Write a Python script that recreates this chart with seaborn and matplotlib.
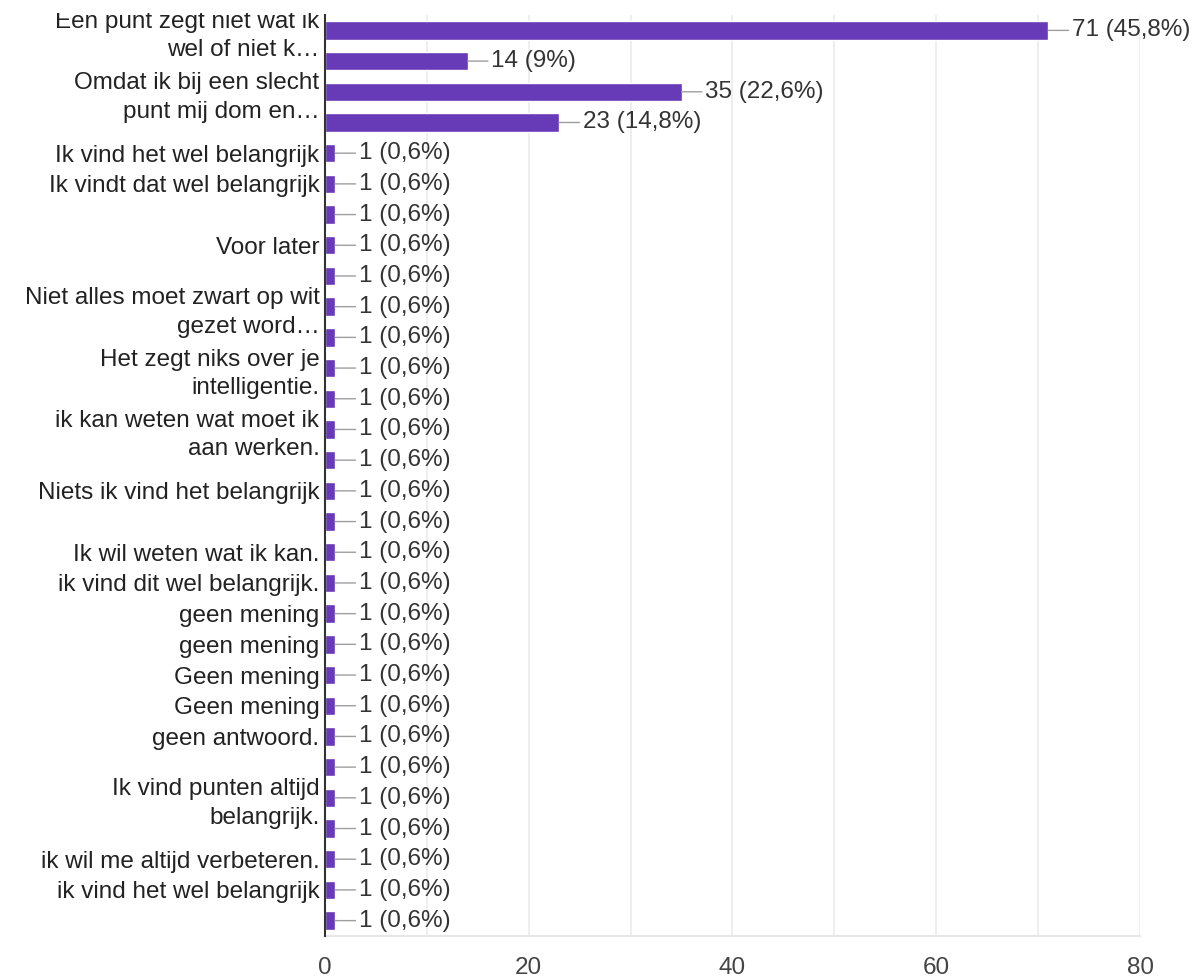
import pandas as pd
import seaborn as sns
import matplotlib.pyplot as plt
from matplotlib.transforms import Bbox, TransformedBbox

# Answers (as Google Forms shows them: long ones wrapped, some left out)
labels = [
    'Een punt zegt niet wat ik\nwel of niet k…', '',
    'Omdat ik bij een slecht\npunt mij dom en…', '',
    'Ik vind het wel belangrijk', 'Ik vindt dat wel belangrijk', '',
    'Voor later', '', 'Niet alles moet zwart op wit\ngezet word…', '',
    'Het zegt niks over je\nintelligentie.', '',
    'ik kan weten wat moet ik\naan werken.', '',
    'Niets ik vind het belangrijk', '', 'Ik wil weten wat ik kan.',
    'ik vind dit wel belangrijk.', 'geen mening', 'geen mening',
    'Geen mening', 'Geen mening', 'geen antwoord.', '',
    'Ik vind punten altijd\nbelangrijk.', '', 'ik wil me altijd verbeteren.',
    'ik vind het wel belangrijk', '',
]
counts = [71, 14, 35, 23] + [1] * 26
respondents = 155
x_ticks = [0, 20, 40, 60, 80]

df = pd.DataFrame({'pos': list(range(len(counts))), 'count': counts})

sns.set_style('white')
plt.rcParams['font.family'] = ['Liberation Sans', 'DejaVu Sans']

fig = plt.figure(figsize=(12, 9.77), dpi=100)
ax = fig.add_axes([0.2708, 0.042, 0.95 - 0.2708, 0.9846 - 0.042])

sns.barplot(data=df, x='count', y='pos', orient='h', color='#673ab7',
            saturation=1, width=0.6, ax=ax, zorder=3)

ax.set_xlim(0, 80)
ax.set_xticks(x_ticks)
ax.set_xticks(range(10, 80, 20), minor=True)
ax.grid(axis='x', which='both', color='#ebebeb', lw=1.2, zorder=0)
ax.set_yticks(range(len(labels)))
ax.set_yticklabels(labels, fontsize=17.5, color='#222222', linespacing=1.38)
ax.tick_params(axis='y', length=0, pad=4)
ax.tick_params(axis='x', which='both', length=0, pad=15, labelsize=17.5,
               labelcolor='#444444')
ax.set_xlabel('')
ax.set_ylabel('')

for s in ['top', 'right']:
    ax.spines[s].set_visible(False)
ax.spines['bottom'].set_color('#e6e6e6')
ax.spines['bottom'].set_linewidth(1.5)
ax.spines['left'].set_color('#333333')
ax.spines['left'].set_linewidth(1.5)
ax.spines['left'].set_zorder(5)

# value labels with a short grey connector
for i, v in enumerate(counts):
    pct = round(v / respondents * 100, 1)
    pct_txt = f'{pct:.1f}'.replace('.', ',')
    if pct_txt.endswith(',0'):
        pct_txt = pct_txt[:-2]
    ax.annotate(f'{v} ({pct_txt}%)', xy=(v, i), xytext=(17, 0),
                textcoords='offset points', ha='left', va='center',
                fontsize=17.5, color='#333333', zorder=6,
                arrowprops=dict(arrowstyle='-', color='#9e9e9e', lw=1,
                                shrinkA=0, shrinkB=0, relpos=(0, 0.5)))

# the chart clips labels at its top edge
clip = TransformedBbox(Bbox([[0, 0], [1, 0.9866]]), fig.transFigure)
for lab in ax.get_yticklabels():
    lab.set_clip_on(True)
    lab.set_clip_box(clip)

fig.savefig('out.png', dpi=100)
